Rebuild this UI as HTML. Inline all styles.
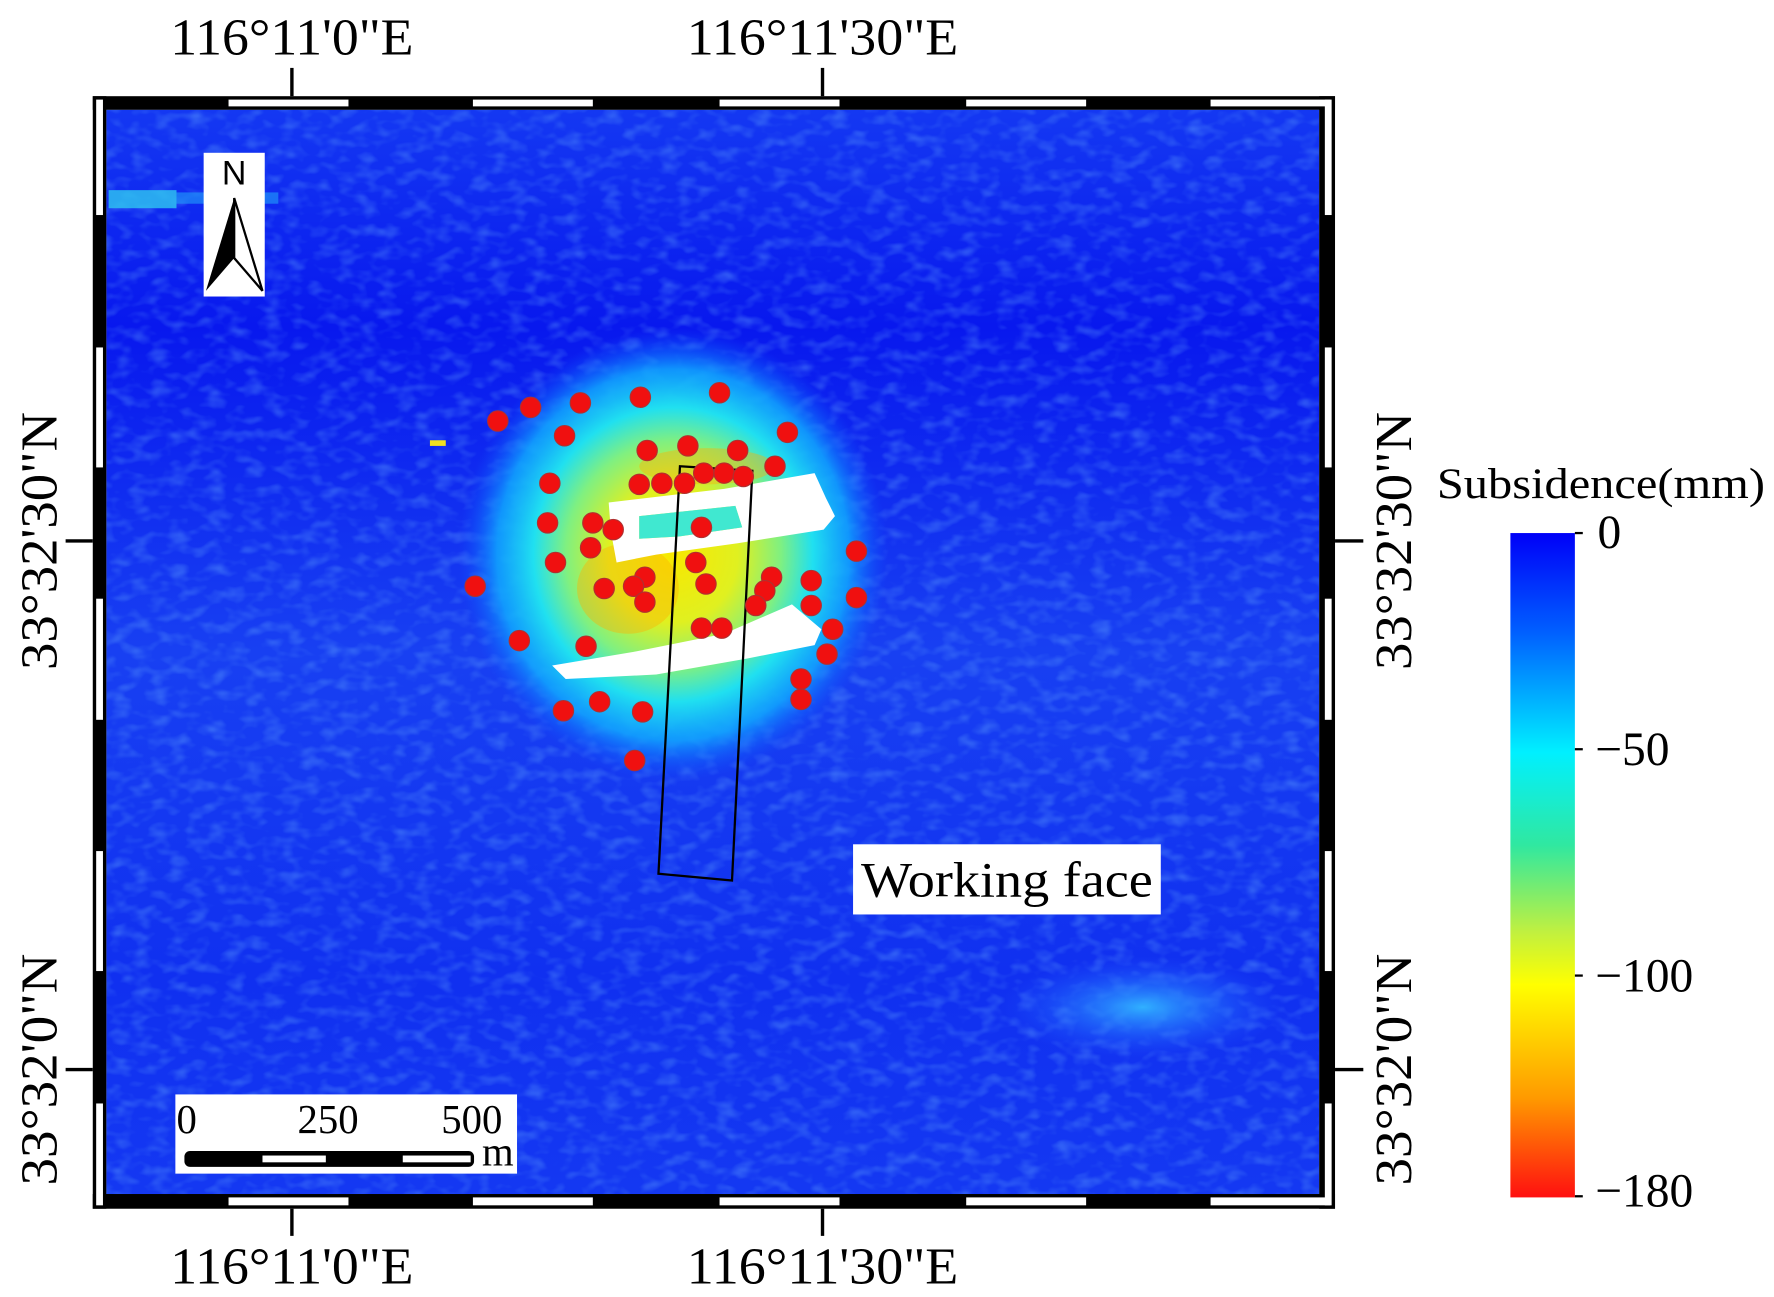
<!DOCTYPE html>
<html><head><meta charset="utf-8"><style>
html,body{margin:0;padding:0;background:#fff;}
svg{display:block;}
text{font-family:"Liberation Serif","Times New Roman",Times,serif;fill:#000;}
</style></head><body>
<svg width="1774" height="1297" viewBox="0 0 1568 1146" preserveAspectRatio="none" xmlns="http://www.w3.org/2000/svg">
<defs>
<radialGradient id="blob" cx="595" cy="490" r="200" gradientUnits="userSpaceOnUse" gradientTransform="translate(595 490) scale(0.95 1) translate(-595 -490)">
<stop offset="0" stop-color="#f8e800"/>
<stop offset="0.3" stop-color="#e0f020"/>
<stop offset="0.5" stop-color="#80f080"/>
<stop offset="0.65" stop-color="#20e0f0"/>
<stop offset="0.82" stop-color="#10a8ff" stop-opacity="0.85"/>
<stop offset="1" stop-color="#1050ff" stop-opacity="0"/>
</radialGradient>
<radialGradient id="patch" cx="1010" cy="890" r="90" gradientUnits="userSpaceOnUse" gradientTransform="translate(1010 890) scale(1.4 0.5) translate(-1010 -890)">
<stop offset="0" stop-color="#30b0ff"/>
<stop offset="1" stop-color="#2050ff" stop-opacity="0"/>
</radialGradient>
<linearGradient id="bg" x1="0" y1="0" x2="0" y2="1">
<stop offset="0" stop-color="#1438f2"/>
<stop offset="0.2" stop-color="#0818ee"/>
<stop offset="0.5" stop-color="#1840f2"/>
<stop offset="0.8" stop-color="#1030f0"/>
<stop offset="1" stop-color="#1438f2"/>
</linearGradient>
<linearGradient id="cb" x1="0" y1="0" x2="0" y2="1">
<stop offset="0" stop-color="#0000f8"/>
<stop offset="0.15" stop-color="#0060ff"/>
<stop offset="0.33" stop-color="#00f0ff"/>
<stop offset="0.47" stop-color="#30e8a0"/>
<stop offset="0.6" stop-color="#c0f040"/>
<stop offset="0.68" stop-color="#ffff00"/>
<stop offset="0.85" stop-color="#ff9a00"/>
<stop offset="1" stop-color="#ff1010"/>
</linearGradient>
<filter id="noise" x="0" y="0" width="1" height="1">
<feTurbulence type="fractalNoise" baseFrequency="0.06 0.1" numOctaves="2" seed="5"/>
<feColorMatrix values="0 0 0 0 0.15  0 0 0 0 0.45  0 0 0 0 1  0 0 0 2 -0.9"/>
</filter>
</defs>

<rect x="94" y="97" width="1072" height="958" fill="url(#bg)"/>
<rect x="94" y="97" width="1072" height="958" filter="url(#noise)" opacity="0.4"/>
<rect x="96" y="168" width="60" height="16" fill="#30c8f0" opacity="0.8"/>
<rect x="156" y="170" width="90" height="10" fill="#2090f8" opacity="0.7"/>
<rect x="380" y="389" width="14" height="5" fill="#f0e020"/>
<rect x="850" y="820" width="320" height="130" fill="url(#patch)"/>
<ellipse cx="595" cy="490" rx="200" ry="200" fill="url(#blob)"/>
<ellipse cx="555" cy="520" rx="45" ry="40" fill="#ffb000" opacity="0.4"/>
<ellipse cx="625" cy="412" rx="60" ry="16" fill="#ffb000" opacity="0.4"/>

<path d="M538,444 L640,432 L720,418 L730,440 L738,456 L728,468 L652,480 L580,490 L545,497 L540,470 Z M565,456 L650,447 L656,466 L600,474 L565,476 Z" fill="#fff" fill-rule="evenodd"/>
<path d="M565,456 L650,447 L656,466 L600,474 L565,476 Z" fill="#40e8d0"/>
<path d="M488,588 L560,576 L640,560 L700,534 L726,556 L720,570 L660,582 L580,596 L500,600 Z" fill="#fff"/>

<polygon points="601,412 665,416 647,778 582,772" fill="none" stroke="#000" stroke-width="2"/>

<g fill="#f01010" stroke="#b03030" stroke-width="1">
<circle cx="440" cy="372" r="9"/><circle cx="469" cy="360" r="9"/><circle cx="513" cy="356" r="9"/><circle cx="566" cy="351" r="9"/><circle cx="636" cy="347" r="9"/><circle cx="499" cy="385" r="9"/><circle cx="696" cy="382" r="9"/><circle cx="572" cy="398" r="9"/><circle cx="608" cy="394" r="9"/><circle cx="652" cy="398" r="9"/><circle cx="685" cy="412" r="9"/><circle cx="565" cy="428" r="9"/><circle cx="585" cy="427" r="9"/><circle cx="605" cy="427" r="9"/><circle cx="622" cy="418" r="9"/><circle cx="640" cy="418" r="9"/><circle cx="657" cy="421" r="9"/><circle cx="486" cy="427" r="9"/><circle cx="484" cy="462" r="9"/><circle cx="524" cy="462" r="9"/><circle cx="542" cy="468" r="9"/><circle cx="620" cy="466" r="9"/><circle cx="522" cy="484" r="9"/><circle cx="615" cy="497" r="9"/><circle cx="491" cy="497" r="9"/><circle cx="757" cy="487" r="9"/><circle cx="570" cy="510" r="9"/><circle cx="534" cy="520" r="9"/><circle cx="560" cy="518" r="9"/><circle cx="570" cy="532" r="9"/><circle cx="624" cy="516" r="9"/><circle cx="682" cy="510" r="9"/><circle cx="676" cy="522" r="9"/><circle cx="668" cy="535" r="9"/><circle cx="717" cy="513" r="9"/><circle cx="717" cy="535" r="9"/><circle cx="757" cy="528" r="9"/><circle cx="620" cy="555" r="9"/><circle cx="638" cy="555" r="9"/><circle cx="736" cy="556" r="9"/><circle cx="731" cy="578" r="9"/><circle cx="459" cy="566" r="9"/><circle cx="518" cy="571" r="9"/><circle cx="708" cy="600" r="9"/><circle cx="708" cy="618" r="9"/><circle cx="498" cy="628" r="9"/><circle cx="530" cy="620" r="9"/><circle cx="568" cy="629" r="9"/><circle cx="561" cy="672" r="9"/><circle cx="420" cy="518" r="9"/>
</g>

<rect x="754" y="746" width="272" height="62" fill="#fff"/>
<text x="890" y="792" font-size="44" text-anchor="middle" textLength="258" lengthAdjust="spacingAndGlyphs">Working face</text>

<rect x="180" y="135" width="54" height="127" fill="#fff"/>
<text x="207" y="163" font-size="30" text-anchor="middle" style="font-family:'Liberation Sans',Arial,sans-serif">N</text>
<polygon points="207,175 182,257 207,228" fill="#000"/>
<polygon points="207,175 232,257 207,228" fill="#fff" stroke="#000" stroke-width="2"/>

<rect x="155" y="967" width="302" height="70" fill="#fff"/>
<text x="165" y="1001" font-size="36" text-anchor="middle">0</text>
<text x="290" y="1001" font-size="36" text-anchor="middle">250</text>
<text x="417" y="1001" font-size="36" text-anchor="middle">500</text>
<text x="440" y="1030" font-size="36" text-anchor="middle">m</text>
<rect x="163" y="1017" width="256" height="14" rx="5" fill="#000"/>
<rect x="232" y="1021" width="56" height="6" fill="#fff"/>
<rect x="356" y="1021" width="60" height="6" fill="#fff"/>

<rect x="82" y="85" width="1098" height="12" fill="#000"/>
<rect x="82" y="1055" width="1098" height="13" fill="#000"/>
<rect x="82" y="85" width="12" height="983" fill="#000"/>
<rect x="1166" y="85" width="14" height="983" fill="#000"/>
<g fill="#fff">
<rect x="202" y="88" width="106" height="6"/><rect x="418" y="88" width="106" height="6"/><rect x="636" y="88" width="106" height="6"/><rect x="854" y="88" width="106" height="6"/><rect x="1070" y="88" width="106" height="6"/>
<rect x="202" y="1058" width="106" height="7"/><rect x="418" y="1058" width="106" height="7"/><rect x="636" y="1058" width="106" height="7"/><rect x="854" y="1058" width="106" height="7"/><rect x="1070" y="1058" width="106" height="7"/>
<rect x="85" y="88" width="6" height="102"/><rect x="85" y="307" width="6" height="106"/><rect x="85" y="529" width="6" height="107"/><rect x="85" y="752" width="6" height="106"/><rect x="85" y="975" width="6" height="90"/>
<rect x="1171" y="88" width="6" height="102"/><rect x="1171" y="307" width="6" height="106"/><rect x="1171" y="529" width="6" height="107"/><rect x="1171" y="752" width="6" height="106"/><rect x="1171" y="975" width="6" height="90"/>
</g>

<g stroke="#000" stroke-width="3">
<line x1="258" y1="60" x2="258" y2="85"/><line x1="727" y1="60" x2="727" y2="85"/>
<line x1="258" y1="1068" x2="258" y2="1092"/><line x1="727" y1="1068" x2="727" y2="1092"/>
<line x1="58" y1="478" x2="82" y2="478"/><line x1="58" y1="945" x2="82" y2="945"/>
<line x1="1180" y1="478" x2="1205" y2="478"/><line x1="1180" y1="945" x2="1205" y2="945"/>
</g>

<g font-size="46">
<text x="258" y="48" text-anchor="middle" textLength="215" lengthAdjust="spacingAndGlyphs">116°11'0"E</text>
<text x="727" y="48" text-anchor="middle" textLength="240" lengthAdjust="spacingAndGlyphs">116°11'30"E</text>
<text x="258" y="1134" text-anchor="middle" textLength="215" lengthAdjust="spacingAndGlyphs">116°11'0"E</text>
<text x="727" y="1134" text-anchor="middle" textLength="240" lengthAdjust="spacingAndGlyphs">116°11'30"E</text>
<text transform="translate(50,478) rotate(-90)" text-anchor="middle" textLength="228" lengthAdjust="spacingAndGlyphs">33°32'30"N</text>
<text transform="translate(50,945) rotate(-90)" text-anchor="middle" textLength="205" lengthAdjust="spacingAndGlyphs">33°32'0"N</text>
<text transform="translate(1247,478) rotate(-90)" text-anchor="middle" textLength="228" lengthAdjust="spacingAndGlyphs">33°32'30"N</text>
<text transform="translate(1247,945) rotate(-90)" text-anchor="middle" textLength="205" lengthAdjust="spacingAndGlyphs">33°32'0"N</text>
</g>

<text x="1415" y="440" font-size="38" text-anchor="middle" textLength="290" lengthAdjust="spacingAndGlyphs">Subsidence(mm)</text>
<rect x="1335" y="471" width="57" height="587" fill="url(#cb)"/>
<g stroke="#000" stroke-width="2">
<line x1="1392" y1="471" x2="1399" y2="471"/><line x1="1392" y1="662" x2="1399" y2="662"/><line x1="1392" y1="862" x2="1399" y2="862"/><line x1="1392" y1="1057" x2="1399" y2="1057"/>
</g>
<g font-size="42">
<text x="1412" y="484">0</text>
<text x="1410" y="676">−50</text>
<text x="1410" y="876">−100</text>
<text x="1410" y="1066">−180</text>
</g>
</svg>
</body></html>
